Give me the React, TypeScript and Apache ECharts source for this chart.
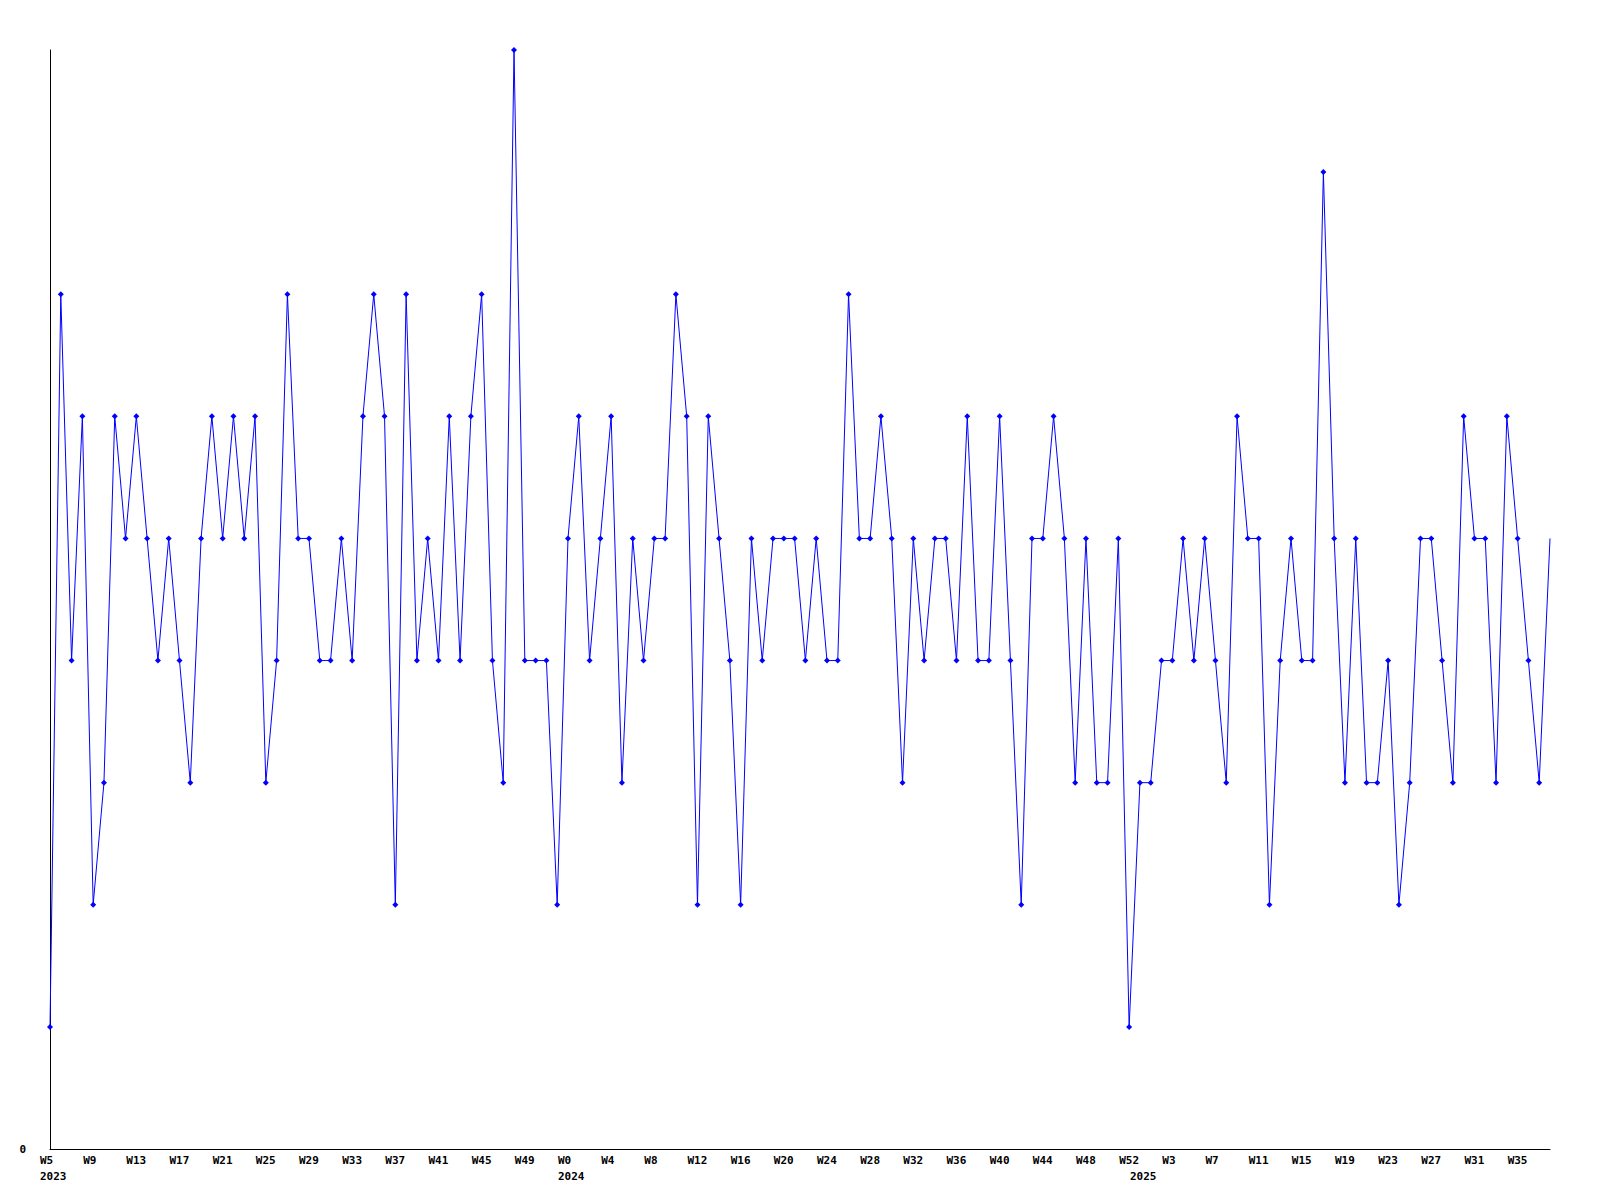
import React, { useEffect, useRef } from "react";
import * as echarts from "echarts";

// Year / first week / last week of the weekly series
const yearRanges: [number, number, number][] = [
  [2023, 5, 52],
  [2024, 0, 52],
  [2025, 0, 38],
];

// Weekly values
const values: number[] = [
  1, 7, 4, 6, 2, 3, 6, 5, 6, 5,
  4, 5, 4, 3, 5, 6, 5, 6, 5, 6,
  3, 4, 7, 5, 5, 4, 4, 5, 4, 6,
  7, 6, 2, 7, 4, 5, 4, 6, 4, 6,
  7, 4, 3, 9, 4, 4, 4, 2, 5, 6,
  4, 5, 6, 3, 5, 4, 5, 5, 7, 6,
  2, 6, 5, 4, 2, 5, 4, 5, 5, 5,
  4, 5, 4, 4, 7, 5, 5, 6, 5, 3,
  5, 4, 5, 5, 4, 6, 4, 4, 6, 4,
  2, 5, 5, 6, 5, 3, 5, 3, 3, 5,
  1, 3, 3, 4, 4, 5, 4, 5, 4, 3,
  6, 5, 5, 2, 4, 5, 4, 4, 8, 5,
  3, 5, 3, 3, 4, 2, 3, 5, 5, 4,
  3, 6, 5, 5, 3, 6, 5, 4, 3, 5,
];

const weekLabels: string[] = [];
const yearLabels: string[] = [];
yearRanges.forEach(([y, a, b]) => {
  for (let w = a; w <= b; w++) {
    weekLabels.push("W" + w);
    yearLabels.push(w === a ? String(y) : "");
  }
});

const FONT = "DejaVu Sans Mono";

export default function App() {
  const ref = useRef<HTMLDivElement>(null);
  useEffect(() => {
    if (!ref.current) return;
    const chart = echarts.init(ref.current, null, { renderer: "svg" });
    const labelRich = {
      a: {
        width: 20,
        align: "left",
        fontFamily: FONT,
        fontSize: 11,
        fontWeight: "bold",
        color: "#000",
      },
    };
    const seriesData = values.map((v, i) =>
      i === values.length - 1 ? { value: v, symbol: "none" } : v
    );
    chart.setOption({
      animation: false,
      backgroundColor: "#ffffff",
      grid: { left: 50, right: 50, top: 50, bottom: 51, containLabel: false },
      xAxis: [
        {
          type: "category",
          data: weekLabels,
          boundaryGap: false,
          axisLine: { show: true, lineStyle: { color: "#000", width: 1 } },
          axisTick: { show: false },
          splitLine: { show: false },
          axisLabel: {
            interval: 3,
            margin: 6,
            align: "center",
            formatter: (v: string) => `{a|${v}}`,
            rich: labelRich,
          },
        },
        {
          type: "category",
          data: yearLabels,
          boundaryGap: false,
          position: "bottom",
          offset: 16,
          axisLine: { show: false },
          axisTick: { show: false },
          splitLine: { show: false },
          axisLabel: {
            interval: 0,
            margin: 6,
            align: "center",
            formatter: (v: string) => (v ? `{a|${v}}` : ""),
            rich: labelRich,
          },
        },
      ],
      yAxis: {
        type: "value",
        min: 0,
        max: 9,
        interval: 9,
        axisLine: { show: true, lineStyle: { color: "#000", width: 1 } },
        axisTick: { show: false },
        splitLine: { show: false },
        axisLabel: {
          margin: 24,
          fontFamily: FONT,
          fontSize: 11,
          fontWeight: "bold",
          color: "#000",
          formatter: (v: number) => (v === 0 ? "0" : ""),
        },
      },
      series: [
        {
          type: "line",
          xAxisIndex: 0,
          data: seriesData,
          symbol: "diamond",
          symbolSize: 6,
          showAllSymbol: true,
          lineStyle: { color: "#0000ff", width: 1 },
          itemStyle: { color: "#0000ff" },
          emphasis: { disabled: true },
        },
      ],
    });
    return () => chart.dispose();
  }, []);
  return (
    <div
      ref={ref}
      style={{ position: "fixed", left: 0, top: 0, width: 1600, height: 1200 }}
    />
  );
}
